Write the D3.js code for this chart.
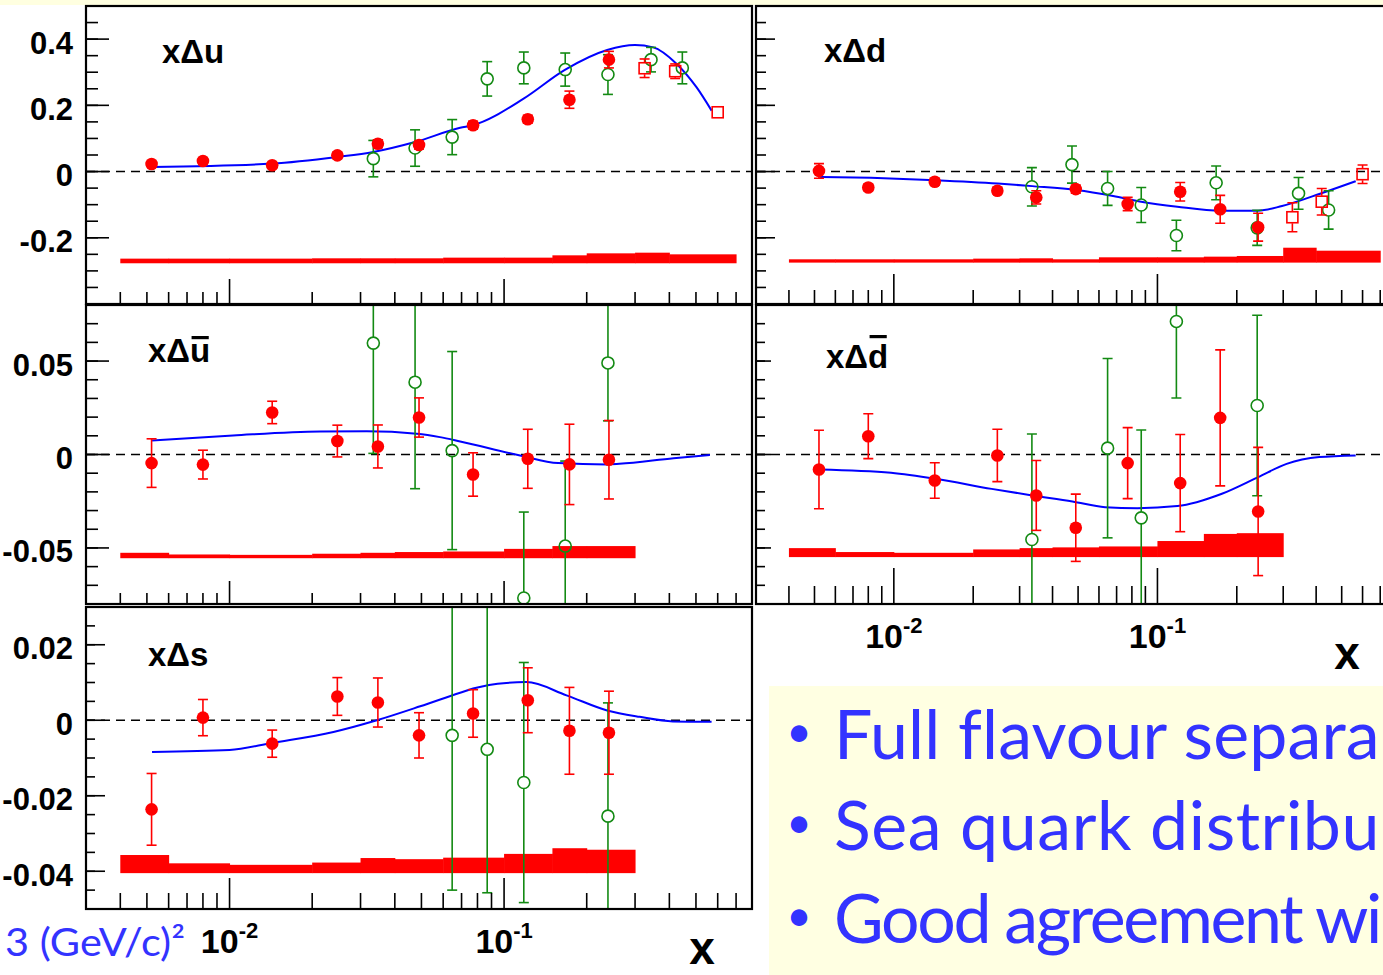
<!DOCTYPE html>
<html>
<head>
<meta charset="utf-8">
<script src="https://cdn.jsdelivr.net/npm/d3@7"></script>
<style>
  body { margin: 0; background: #fff; }
  svg { display: block; }
  .lbl { font-family: "Liberation Sans", Arial, Helvetica, sans-serif; font-weight: bold; fill: #000; }
  .note { font-family: "Comic Sans MS", Lato, "Noto Sans", sans-serif; fill: #3333ff; }
</style>
</head>
<body>
<svg id="chart"></svg>
<script>
//Bin centres of the three data sets
const compassX = [0.0052, 0.0080, 0.0143, 0.0247, 0.0347, 0.0490, 0.0771, 0.122, 0.173, 0.241];
const hermesX  = [0.0334, 0.0474, 0.0647, 0.0868, 0.118, 0.167, 0.239, 0.343, 0.446];
const highX    = [0.325, 0.42, 0.6];
//Edges of the systematic band bins
const systEdges = [0.004, 0.006, 0.01, 0.02, 0.03, 0.04, 0.06, 0.1, 0.15, 0.2, 0.3, 0.4, 0.7];

//x axis ticks
const xMajorTicks = [0.01, 0.1];
const xMinorTicks = [0.004, 0.005, 0.006, 0.007, 0.008, 0.009, 0.02, 0.03, 0.04, 0.05, 0.06, 0.07, 0.08, 0.09,
                     0.2, 0.3, 0.4, 0.5, 0.6, 0.7];
const xTickLabels = [["10", "-2"], ["10", "-1"]];

//x Delta u
const uTicks = [0.4, 0.2, 0, -0.2];
const uTickLabels = ["0.4", "0.2", "0", "-0.2"];
const uCompass    = [0.023, 0.032, 0.019, 0.049, 0.084, 0.080, 0.140, 0.158, 0.217, 0.338];
const uCompassErr = [0.008, 0.008, 0.008, 0.010, 0.012, 0.012, 0.012, 0.012, 0.026, 0.025];
const uHermes     = [0.039, 0.071, 0.104, 0.280, 0.313, 0.308, 0.293, 0.338, 0.313];
const uHermesErr  = [0.055, 0.055, 0.053, 0.052, 0.048, 0.050, 0.060, 0.037, 0.048];
const uHigh       = [0.312, 0.303, 0.179];
const uHighErr    = [0.028, 0.022, 0.008];
const uCurveX = [0.00522, 0.0143, 0.0247, 0.0334, 0.0474, 0.0692, 0.0771, 0.1178, 0.1665, 0.2374, 0.2998, 0.3496, 0.4253, 0.5029, 0.570];
const uCurve  = [0.014, 0.024, 0.044, 0.059, 0.089, 0.132, 0.140, 0.220, 0.307, 0.367, 0.382, 0.375, 0.325, 0.254, 0.184];
const uSystBase = -0.277;
const uSyst = [0.014, 0.014, 0.014, 0.015, 0.015, 0.015, 0.017, 0.017, 0.024, 0.030, 0.032, 0.027];

//x Delta d
const dCompass    = [0.002, -0.048, -0.031, -0.058, -0.078, -0.053, -0.098, -0.061, -0.114, -0.168];
const dCompassErr = [0.022, 0.010, 0.010, 0.010, 0.020, 0.012, 0.020, 0.028, 0.042, 0.042];
const dHermes     = [-0.046, 0.021, -0.051, -0.101, -0.193, -0.034, -0.170, -0.066, -0.116];
const dHermesErr  = [0.058, 0.056, 0.051, 0.053, 0.046, 0.051, 0.053, 0.048, 0.058];
const dHigh       = [-0.138, -0.091, -0.008];
const dHighErr    = [0.044, 0.040, 0.028];
const dCurveX = [0.00522, 0.00818, 0.0144, 0.0248, 0.0335, 0.0494, 0.0679, 0.0868, 0.119, 0.174, 0.241, 0.297, 0.424, 0.565];
const dCurve  = [-0.016, -0.019, -0.026, -0.036, -0.044, -0.056, -0.074, -0.091, -0.106, -0.118, -0.118, -0.104, -0.064, -0.029];
const dSystBase = -0.275;
const dSyst = [0.010, 0.010, 0.010, 0.012, 0.013, 0.010, 0.016, 0.016, 0.018, 0.020, 0.045, 0.036];

//x Delta ubar
const ubTicks = [0.05, 0, -0.05];
const ubTickLabels = ["0.05", "0", "-0.05"];
const ubCompass    = [-0.0046, -0.0054, 0.0225, 0.0072, 0.0043, 0.0198, -0.0107, -0.0023, -0.0053, -0.0028];
const ubCompassErr = [0.013, 0.0077, 0.006, 0.0085, 0.0115, 0.0105, 0.0116, 0.0158, 0.0215, 0.021];
const ubHermes     = [0.0596, 0.0387, 0.0021, null, -0.0768, -0.049, 0.049, null, null];
const ubHermesErr  = [0.059, 0.057, 0.053, null, 0.046, 0.0455, 0.031, null, null];
const ubCurveX = [0.00522, 0.0103, 0.0214, 0.0316, 0.0481, 0.0584, 0.0692, 0.1144, 0.1575, 0.2374, 0.2631, 0.4144, 0.562];
const ubCurve  = [0.0075, 0.0102, 0.0123, 0.0124, 0.0111, 0.0093, 0.0070, -0.0005, -0.0046, -0.0053, -0.0050, -0.0020, -0.0003];
const ubSystBase = -0.0555;
const ubSyst = [0.0029, 0.0020, 0.0018, 0.0024, 0.0029, 0.0033, 0.0036, 0.0050, 0.0065, 0.0065];

//x Delta dbar
const dbCompass    = [-0.008, 0.0098, -0.0139, -0.0005, -0.0219, -0.0392, -0.0046, -0.0153, 0.0196, -0.0305];
const dbCompassErr = [0.021, 0.012, 0.0095, 0.014, 0.0187, 0.018, 0.019, 0.026, 0.0364, 0.0343];
const dbHermes     = [-0.0455, null, 0.0034, -0.0339, 0.0712, null, 0.0262, null, null];
const dbHermesErr  = [0.0565, null, 0.048, 0.047, 0.041, null, 0.0483, null, null];
const dbCurveX = [0.00522, 0.00976, 0.0144, 0.0235, 0.0335, 0.0476, 0.0633, 0.0839, 0.119, 0.1756, 0.241, 0.309, 0.411, 0.565];
const dbCurve  = [-0.0080, -0.0098, -0.0130, -0.0184, -0.0219, -0.0251, -0.0282, -0.0287, -0.0276, -0.0210, -0.0121, -0.0050, -0.0014, -0.0005];
const dbSystBase = -0.0549;
const dbSyst = [0.0048, 0.0027, 0.0023, 0.0041, 0.0048, 0.0052, 0.0057, 0.0086, 0.0124, 0.0128];

//x Delta s
const sTicks = [0.02, 0, -0.02, -0.04];
const sTickLabels = ["0.02", "0", "-0.02", "-0.04"];
const sCompass    = [-0.0236, 0.0007, -0.0062, 0.0063, 0.0047, -0.0040, 0.0018, 0.0053, -0.0028, -0.0033];
const sCompassErr = [0.0095, 0.0048, 0.0036, 0.0050, 0.0065, 0.0060, 0.0063, 0.0086, 0.0115, 0.0110];
const sHermes     = [null, null, -0.0040, -0.0077, -0.0165, null, -0.0254, null, null];
const sHermesErr  = [null, null, 0.041, 0.038, 0.0318, null, 0.030, null, null];
const sCurveX = [0.00522, 0.0100, 0.0143, 0.0239, 0.0344, 0.0495, 0.0692, 0.0771, 0.102, 0.1206, 0.1688, 0.2374, 0.3118, 0.4117, 0.570];
const sCurve  = [-0.0084, -0.0079, -0.0060, -0.0031, 0.0000, 0.0037, 0.0073, 0.0084, 0.0099, 0.0101, 0.0066, 0.0026, 0.0009, -0.0003, -0.0004];
const sSystBase = -0.0405;
const sSyst = [0.0048, 0.0026, 0.0022, 0.0028, 0.0040, 0.0037, 0.0041, 0.0051, 0.0066, 0.0062];

//Text on the slide (the bullet lines run past the slide's right edge)
const qLabel = "3 (GeV/c)²";
const bulletVisible = ["Full flavour separa", "Sea quark distribu", "Good agreement wi"];

//Colours
const RED = "#ff0000";
const GREEN = "#138a13";
const BLUE = "#0000ff";

const w = 1383;
const h = 975;
const xDomain = [0.003, 0.8];

const svg = d3.select("#chart").attr("width", w).attr("height", h);

//Slide background pieces
svg.append("rect").attr("x", 0).attr("y", 0).attr("width", w).attr("height", 5).attr("fill", "#ffffe0");
svg.append("rect").attr("x", 769).attr("y", 686).attr("width", w - 769).attr("height", h - 686).attr("fill", "#ffffe2");

const panels = [
  { id: "u", x0: 86, x1: 752, y0: 6, y1: 304, yDomain: [-0.4, 0.5], step: 0.05,
    ticks: uTicks, labels: uTickLabels, tl: { xMaj: 25, xMin: 12, yMaj: 23, yMin: 12 },
    title: { x: 162, y: 63, q: "u", bar: 0 },
    compass: uCompass, compassErr: uCompassErr, hermes: uHermes, hermesErr: uHermesErr,
    high: uHigh, highErr: uHighErr, curveX: uCurveX, curve: uCurve, systBase: uSystBase, syst: uSyst },
  { id: "d", x0: 756, x1: 1395.5, y0: 6, y1: 304, yDomain: [-0.4, 0.5], step: 0.05,
    ticks: uTicks, labels: null, tl: { xMaj: 30, xMin: 14, yMaj: 19, yMin: 10 },
    title: { x: 824, y: 62, q: "d", bar: 0 },
    compass: dCompass, compassErr: dCompassErr, hermes: dHermes, hermesErr: dHermesErr,
    high: dHigh, highErr: dHighErr, curveX: dCurveX, curve: dCurve, systBase: dSystBase, syst: dSyst },
  { id: "ub", x0: 86, x1: 752, y0: 305, y1: 604, yDomain: [-0.08, 0.08], step: 0.01,
    ticks: ubTicks, labels: ubTickLabels, tl: { xMaj: 23, xMin: 11, yMaj: 23, yMin: 12 },
    title: { x: 148, y: 362, q: "u", bar: 26 },
    compass: ubCompass, compassErr: ubCompassErr, hermes: ubHermes, hermesErr: ubHermesErr,
    high: null, highErr: null, curveX: ubCurveX, curve: ubCurve, systBase: ubSystBase, syst: ubSyst },
  { id: "db", x0: 756, x1: 1395.5, y0: 305, y1: 604, yDomain: [-0.08, 0.08], step: 0.01,
    ticks: ubTicks, labels: null, tl: { xMaj: 36, xMin: 18, yMaj: 15, yMin: 9 },
    title: { x: 826, y: 368, q: "d", bar: 33 },
    compass: dbCompass, compassErr: dbCompassErr, hermes: dbHermes, hermesErr: dbHermesErr,
    high: null, highErr: null, curveX: dbCurveX, curve: dbCurve, systBase: dbSystBase, syst: dbSyst },
  { id: "s", x0: 86, x1: 752, y0: 607, y1: 909, yDomain: [-0.05, 0.03], step: 0.005,
    ticks: sTicks, labels: sTickLabels, tl: { xMaj: 31, xMin: 16, yMaj: 19, yMin: 9 },
    title: { x: 148, y: 666, q: "s", bar: 0 },
    compass: sCompass, compassErr: sCompassErr, hermes: sHermes, hermesErr: sHermesErr,
    high: null, highErr: null, curveX: sCurveX, curve: sCurve, systBase: sSystBase, syst: sSyst }
];

const scales = {};
panels.forEach(drawPanel);

function drawPanel(p) {
  const xs = d3.scaleLog().domain(xDomain).range([p.x0, p.x1]);
  const ys = d3.scaleLinear().domain(p.yDomain).range([p.y1, p.y0]);
  scales[p.id] = xs;

  svg.append("clipPath").attr("id", "clip-" + p.id)
     .append("rect").attr("x", p.x0).attr("y", p.y0)
     .attr("width", p.x1 - p.x0).attr("height", p.y1 - p.y0);

  const g = svg.append("g").attr("clip-path", `url(#clip-${p.id})`);

  //Systematic band, one step per bin
  g.selectAll(".syst").data(p.syst).enter().append("rect")
   .attr("x", (d, i) => xs(systEdges[i]))
   .attr("width", (d, i) => xs(systEdges[i + 1]) - xs(systEdges[i]) + 0.5)
   .attr("y", (d) => ys(p.systBase + d))
   .attr("height", (d) => ys(p.systBase) - ys(p.systBase + d))
   .attr("fill", RED);

  //Zero line
  g.append("line").attr("x1", p.x0).attr("x2", p.x1)
   .attr("y1", ys(0)).attr("y2", ys(0))
   .attr("stroke", "#000").attr("stroke-width", 1.5).attr("stroke-dasharray", "9,6");

  //Fit curve
  const line = d3.line().x((d) => xs(d[0])).y((d) => ys(d[1])).curve(d3.curveMonotoneX);
  g.append("path").datum(p.curveX.map((x, i) => [x, p.curve[i]]))
   .attr("d", line).attr("fill", "none").attr("stroke", BLUE).attr("stroke-width", 2);

  //Open markers: error bars stop at the marker edge
  function openPoints(xv, vals, errs, color, shape) {
    const pts = xv.map((x, i) => ({ x: x, v: vals[i], e: errs[i] })).filter((d) => d.v !== null);
    const r = 6;
    pts.forEach((d) => {
      const cx = xs(d.x), cy = ys(d.v);
      const top = ys(d.v + d.e), bot = ys(d.v - d.e);
      if (cy - top > r) {
        g.append("line").attr("x1", cx).attr("x2", cx).attr("y1", cy - r).attr("y2", top)
         .attr("stroke", color).attr("stroke-width", 1.6);
        g.append("line").attr("x1", cx - 5).attr("x2", cx + 5).attr("y1", top).attr("y2", top)
         .attr("stroke", color).attr("stroke-width", 1.6);
      }
      if (bot - cy > r) {
        g.append("line").attr("x1", cx).attr("x2", cx).attr("y1", cy + r).attr("y2", bot)
         .attr("stroke", color).attr("stroke-width", 1.6);
        g.append("line").attr("x1", cx - 5).attr("x2", cx + 5).attr("y1", bot).attr("y2", bot)
         .attr("stroke", color).attr("stroke-width", 1.6);
      }
      if (shape === "circle") {
        g.append("circle").attr("cx", cx).attr("cy", cy).attr("r", r)
         .attr("fill", "none").attr("stroke", color).attr("stroke-width", 1.6);
      } else {
        g.append("rect").attr("x", cx - 5.5).attr("y", cy - 5.5).attr("width", 11).attr("height", 11)
         .attr("fill", "none").attr("stroke", color).attr("stroke-width", 1.6);
      }
    });
  }
  openPoints(hermesX, p.hermes, p.hermesErr, GREEN, "circle");
  if (p.high) openPoints(highX, p.high, p.highErr, RED, "square");

  //Filled points with full error bars
  const comp = g.selectAll(".compass").data(compassX.map((x, i) => ({ x: x, v: p.compass[i], e: p.compassErr[i] })))
                .enter().append("g");
  comp.append("line").attr("x1", (d) => xs(d.x)).attr("x2", (d) => xs(d.x))
      .attr("y1", (d) => ys(d.v + d.e)).attr("y2", (d) => ys(d.v - d.e))
      .attr("stroke", RED).attr("stroke-width", 1.6);
  comp.append("line").attr("x1", (d) => xs(d.x) - 5).attr("x2", (d) => xs(d.x) + 5)
      .attr("y1", (d) => ys(d.v + d.e)).attr("y2", (d) => ys(d.v + d.e))
      .attr("stroke", RED).attr("stroke-width", 1.6);
  comp.append("line").attr("x1", (d) => xs(d.x) - 5).attr("x2", (d) => xs(d.x) + 5)
      .attr("y1", (d) => ys(d.v - d.e)).attr("y2", (d) => ys(d.v - d.e))
      .attr("stroke", RED).attr("stroke-width", 1.6);
  comp.append("circle").attr("cx", (d) => xs(d.x)).attr("cy", (d) => ys(d.v)).attr("r", 6.3).attr("fill", RED);

  //Axis ticks
  const ax = svg.append("g").attr("stroke", "#000").attr("stroke-width", 1.6);
  const yMinor = d3.range(Math.ceil(p.yDomain[0] / p.step + 1e-6), Math.floor(p.yDomain[1] / p.step - 1e-6) + 1)
                   .map((k) => k * p.step);
  ax.selectAll(".ymin").data(yMinor).enter().append("line")
    .attr("x1", p.x0).attr("x2", p.x0 + p.tl.yMin).attr("y1", (d) => ys(d)).attr("y2", (d) => ys(d));
  ax.selectAll(".ymaj").data(p.ticks).enter().append("line")
    .attr("x1", p.x0).attr("x2", p.x0 + p.tl.yMaj).attr("y1", (d) => ys(d)).attr("y2", (d) => ys(d));
  ax.selectAll(".xmin").data(xMinorTicks).enter().append("line")
    .attr("x1", (d) => xs(d)).attr("x2", (d) => xs(d)).attr("y1", p.y1).attr("y2", p.y1 - p.tl.xMin);
  ax.selectAll(".xmaj").data(xMajorTicks).enter().append("line")
    .attr("x1", (d) => xs(d)).attr("x2", (d) => xs(d)).attr("y1", p.y1).attr("y2", p.y1 - p.tl.xMaj);

  //Frame
  svg.append("rect").attr("x", p.x0).attr("y", p.y0)
     .attr("width", p.x1 - p.x0).attr("height", p.y1 - p.y0)
     .attr("fill", "none").attr("stroke", "#000").attr("stroke-width", 2.2);

  //y tick labels
  if (p.labels) {
    svg.selectAll(null).data(p.ticks).enter().append("text")
       .attr("class", "lbl").attr("x", 73).attr("y", (d) => ys(d) + 14.5)
       .attr("text-anchor", "end").style("font-size", "31px")
       .text((d, i) => p.labels[i]);
  }

  //Panel title, with a bar for the antiquarks
  const t = svg.append("text").attr("class", "lbl").attr("x", p.title.x).attr("y", p.title.y)
               .style("font-size", "33px");
  t.append("tspan").text("xΔ");
  t.append("tspan").text(p.title.q);
  if (p.title.bar) {
    const ext = t.node().getExtentOfChar(2);
    svg.append("rect").attr("x", ext.x + 1.5).attr("width", ext.width - 3)
       .attr("y", p.title.y - p.title.bar).attr("height", 3.2).attr("fill", "#000");
  }
}

//x tick labels and titles
function xLabels(xs, baseline, titleX, titleY) {
  const lab = svg.selectAll(null).data(xMajorTicks).enter().append("text")
                 .attr("class", "lbl").attr("x", (d) => xs(d)).attr("y", baseline)
                 .attr("text-anchor", "middle");
  lab.append("tspan").style("font-size", "34px").text((d, i) => xTickLabels[i][0]);
  lab.append("tspan").style("font-size", "22px").attr("dy", -15).text((d, i) => xTickLabels[i][1]);
  svg.append("text").attr("class", "lbl").attr("x", titleX).attr("y", titleY)
     .attr("text-anchor", "middle").style("font-size", "46px").text("x");
}
xLabels(scales["s"], 953, 702, 964);
xLabels(scales["db"], 648, 1347, 669);

//Q2 label, partly cut by the slide
svg.append("text").attr("class", "note").attr("x", 5).attr("y", 956)
   .attr("textLength", 180).attr("lengthAdjust", "spacingAndGlyphs")
   .style("font-size", "38px").text(qLabel);

//Bullet text in the yellow box
const bulletBase = [759, 850, 943];
bulletVisible.forEach((txt, i) => {
  svg.append("text").attr("class", "note").attr("x", 799).attr("y", bulletBase[i] - 12)
     .attr("text-anchor", "middle").style("font-size", "44px").text("•");
  const t = svg.append("text").attr("class", "note").attr("x", 834).attr("y", bulletBase[i])
               .style("font-size", "68px").text(txt);
  const wv = t.node().getComputedTextLength();
  const target = 1380 - 834;
  t.style("letter-spacing", ((target - wv) / txt.length) + "px");
});
</script>
</body>
</html>
